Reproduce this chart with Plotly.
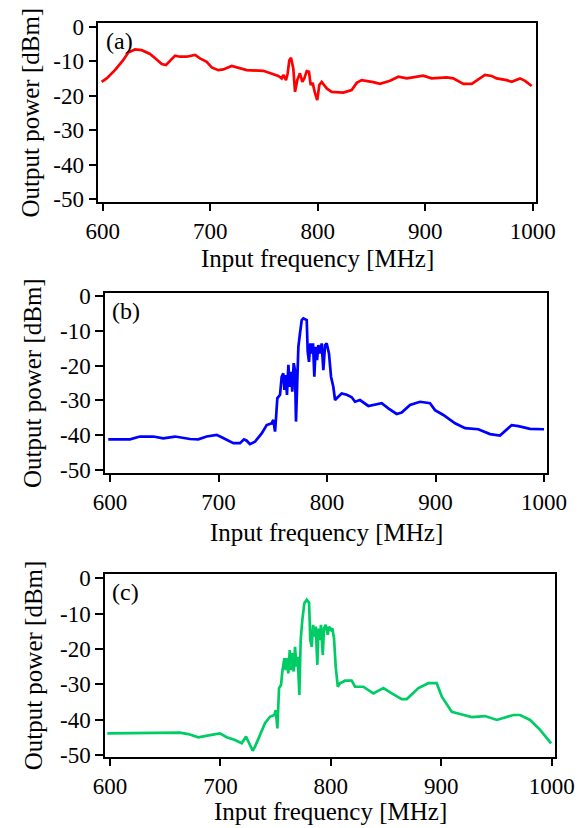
import plotly.graph_objects as go

# ---------------- data ----------------
freq_a = [599, 603.7, 611.4, 619, 623.8, 630, 636.3, 644, 650.2, 654.9, 658.9, 662.6, 667.3, 671.9,
          678, 685.9, 690.5, 696.7, 701.4, 707.5, 712.2, 720, 724.6, 734, 749.4, 757.2, 763.4, 766.5,
          768, 770.5, 772.1, 773.6, 775.2, 777.3, 778.9, 781, 783.5, 785.7, 787.5, 789.8, 791.9,
          793.5, 795.3, 797.5, 799.6, 801.5, 803.7, 808.4, 813, 823.8, 831.6, 836.3, 840.9, 851.7,
          858, 867.3, 875, 882.8, 898.2, 906, 920, 926.1, 935.5, 943.3, 949.4, 955.6, 961.9, 966.5,
          975.8, 980.5, 988.2, 992.9, 999.1]
power_a = [-16.0, -15.0, -12.6, -9.7, -7.5, -6.6, -6.8, -7.9, -9.5, -10.8, -11.1, -9.9, -8.4, -8.7,
           -8.7, -8.2, -9.2, -10.2, -11.8, -12.6, -12.4, -11.4, -11.8, -12.6, -12.8, -13.7, -14.3, -15.0,
           -14.0, -15.5, -13.5, -9.7, -9.0, -12.1, -18.9, -15.5, -13.5, -16.0, -15.0, -12.9, -13.1,
           -16.9, -16.3, -19.3, -21.3, -16.9, -16.0, -17.9, -18.9, -19.1, -18.4, -16.3, -15.5, -16.1,
           -16.6, -15.7, -14.5, -15.0, -14.2, -15.0, -14.7, -15.0, -16.6, -16.6, -15.3, -14.0, -14.3, -15.0,
           -15.5, -16.0, -15.0, -15.7, -17.2]

freq_b = [598.4, 618.4, 627.6, 639.9, 649.1, 659.9, 673.7, 681.4, 689.1, 698.3, 702.9, 713.7, 719.8,
          723.5, 726, 729, 733.6, 739.8, 744.4, 749, 750.5, 752.1, 753, 754.2, 756.7, 758.2, 759.7,
          760.7, 761.9, 763.1, 764.4, 765.6, 766.8, 768, 769.3, 770.5, 771.4, 772.4, 773.6, 775.1,
          776.7, 778.2, 781.3, 782.2, 783.4, 784.6, 785.9, 787.1, 788.3, 789.6, 790.8, 792, 793.5,
          795.1, 796.6, 798.2, 799.7, 801.8, 803.7, 805.8, 807.4, 808.9, 813.5, 818.2, 822.8, 825.8,
          830.4, 838.1, 844.2, 850.4, 856.5, 864.2, 868.8, 876.5, 885.7, 894.9, 899.5, 907.2, 918,
          927.2, 939.4, 950.2, 959.4, 965.6, 970.2, 976.3, 987.1, 1000]
power_b = [-41.2, -41.2, -40.4, -40.4, -40.9, -40.4, -41.1, -41.2, -40.4, -39.9, -40.6, -42.3, -42.3,
           -41.2, -41.6, -42.6, -41.9, -39.5, -37.1, -36.6, -35.6, -39.0, -35.1, -29.4, -28.4, -23.2, -22.2,
           -27.0, -22.7, -28.4, -19.8, -26.1, -21.8, -27.5, -19.3, -21.3, -36.1, -23.2, -14.6, -10.7,
           -6.9, -6.4, -6.9, -16.0, -18.9, -13.6, -16.5, -13.6, -23.2, -14.6, -18.4, -14.1, -16.5,
           -13.6, -21.3, -14.1, -13.6, -16.5, -23.2, -26.1, -29.9, -29.4, -28.0, -28.4, -29.1, -30.4,
           -29.9, -31.6, -31.3, -30.8, -32.3, -33.9, -33.5, -31.3, -30.4, -30.8, -32.8, -34.2, -36.6,
           -38.0, -38.3, -39.7, -40.1, -38.5, -37.1, -37.4, -38.2, -38.3]

freq_c = [597.6, 621.1, 642.3, 663.4, 670.9, 680, 690.6, 699.6, 705.7, 713.2, 719.3, 723.2, 726.8,
          729.2, 731.3, 735.9, 740.4, 744.9, 748.8, 750.1, 751.6, 753.1, 754.9, 756.1, 757.9, 759.1,
          760.3, 761.5, 762.8, 764, 765.1, 766.4, 767.6, 768.8, 770, 771.5, 772.7, 774.2, 776, 778.2,
          780.3, 781.4, 782.7, 783.9, 785, 786.3, 787.8, 788.7, 789.9, 791.1, 792.7, 793.8, 795.4,
          797.2, 798.4, 800.2, 801.4, 802.9, 804.4, 806.3, 808.3, 812.9, 818.9, 821.9, 829.4, 838.5,
          847.6, 855.2, 864.2, 868.8, 879.3, 888.3, 895.9, 900.5, 909.5, 917, 927.6, 939.7, 950.3,
          965.3, 971.4, 980.4, 989.5, 999.5]
power_c = [-43.9, -43.9, -43.7, -43.7, -44.1, -45.0, -44.4, -43.9, -45.0, -45.8, -46.7, -44.8, -47.2,
           -48.8, -47.7, -44.4, -41.0, -39.2, -38.7, -37.3, -42.5, -31.1, -30.2, -26.4, -22.6, -26.0,
           -22.6, -26.9, -20.3, -26.0, -21.2, -26.4, -19.4, -25.0, -22.2, -33.0, -17.5, -11.8, -7.1, -6.1,
           -6.9, -17.5, -19.4, -13.2, -16.5, -13.7, -24.5, -14.2, -17.5, -13.2, -21.7, -14.2, -13.2,
           -16.0, -13.7, -14.6, -14.2, -17.0, -25.0, -30.7, -29.7, -29.0, -29.0, -30.7, -30.7, -32.6,
           -31.1, -32.6, -34.2, -34.2, -31.1, -29.7, -29.7, -33.5, -37.8, -38.4, -39.3, -39.0, -40.1,
           -38.7, -38.7, -40.1, -42.9, -46.7]

panel_labels = ["(a)", "(b)", "(c)"]
x_tick_vals = [600, 700, 800, 900, 1000]
x_tick_text = ["600", "700", "800", "900", "1000"]
y_tick_vals = [0, -10, -20, -30, -40, -50]
y_tick_text = ["0", "-10", "-20", "-30", "-40", "-50"]
x_title = "Input frequency [MHz]"
y_title = "Output power [dBm]"

# ---------------- figure ----------------
# the page body keeps its default 8 px margin, so the figure is 8 px smaller
OFF = 8
W, H = 583 - OFF, 828 - OFF
FONT = "Liberation Serif, Times New Roman, serif"

# pixel frames of the three panels in window coordinates: (left, top, right, bottom)
frames = [(98.3, 23.3, 535.7, 201.7), (105, 293.3, 547.3, 472.7), (105, 574, 555, 756.7)]
yranges = [[-50.8, 1.0], [-50.8, 0.8], [-50.5, 1.2]]
xranges = [[595.9, 1002.8], [595.4, 1003], [595.5, 1003]]
colors = ["#FF0000", "#0000FF", "#00CC66"]
series = [(freq_a, power_a), (freq_b, power_b), (freq_c, power_c)]
xtitle_y = [258, 532, 811]
ytitle_x = [30, 33, 33]


def px_x(v):
    return (v - OFF) / W


def px_y(v):
    return 1 - (v - OFF) / H


fig = go.Figure()
annotations = []
for i, ((l, t, r, b), (fx, py), col) in enumerate(zip(frames, series, colors)):
    n = "" if i == 0 else str(i + 1)
    xa, ya = "x" + n, "y" + n
    fig.add_trace(go.Scatter(x=fx, y=py, mode="lines", xaxis=xa, yaxis=ya,
                             line=dict(color=col, width=2.7), showlegend=False))
    common = dict(showgrid=False, zeroline=False, showline=True, linecolor="black",
                  linewidth=1.5, mirror=True, ticks="outside", ticklen=8, tickwidth=1.5,
                  tickcolor="black", automargin=False,
                  tickfont=dict(family=FONT, size=23, color="black"))
    fig.update_layout(**{
        ("xaxis" + n): dict(domain=[px_x(l), px_x(r)], anchor=ya, range=xranges[i],
                            tickvals=x_tick_vals, ticktext=x_tick_text, **common),
        ("yaxis" + n): dict(domain=[px_y(b), px_y(t)], anchor=xa, range=yranges[i],
                            tickvals=y_tick_vals, ticktext=y_tick_text, **common),
    })
    annotations.append(dict(text=panel_labels[i], xref=xa + " domain", yref=ya + " domain",
                            x=0.012, y=0.985, xanchor="left", yanchor="top", showarrow=False,
                            font=dict(family=FONT, size=24, color="black")))
    annotations.append(dict(text=x_title, xref="paper", yref="paper",
                            x=px_x((l + r) / 2), y=px_y(xtitle_y[i]), xanchor="center",
                            yanchor="middle", showarrow=False,
                            font=dict(family=FONT, size=25, color="black")))
    annotations.append(dict(text=y_title, xref="paper", yref="paper", textangle=-90,
                            x=px_x(ytitle_x[i]), y=px_y((t + b) / 2), xanchor="center",
                            yanchor="middle", showarrow=False,
                            font=dict(family=FONT, size=25, color="black")))

fig.update_layout(width=W, height=H, margin=dict(l=0, r=0, t=0, b=0, pad=0),
                  paper_bgcolor="white", plot_bgcolor="white", annotations=annotations)
fig.write_html("out.html")
